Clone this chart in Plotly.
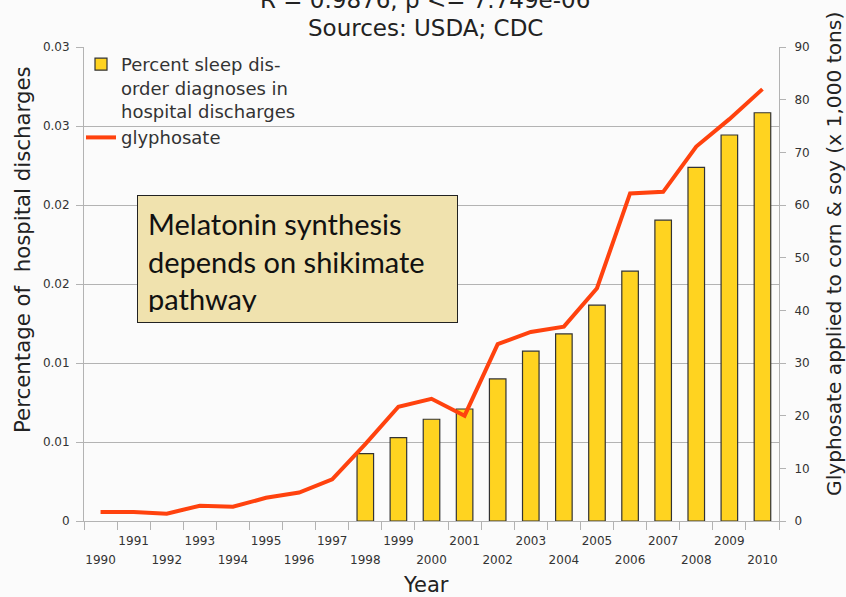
import plotly.graph_objects as go

# ---- data ----
years = [1990, 1991, 1992, 1993, 1994, 1995, 1996, 1997, 1998, 1999, 2000,
         2001, 2002, 2003, 2004, 2005, 2006, 2007, 2008, 2009, 2010]
sleep_pct = [None, None, None, None, None, None, None, None,
             0.00427, 0.00528, 0.00644, 0.00709, 0.00899, 0.01075, 0.01184,
             0.01366, 0.01581, 0.01904, 0.02238, 0.02443, 0.02584]
glyphosate = [1.7, 1.7, 1.4, 2.9, 2.7, 4.4, 5.4, 7.9, 14.6, 21.7, 23.2,
              20.0, 33.6, 35.9, 36.9, 44.2, 62.2, 62.5, 71.1, 76.3, 82.0]
left_tickvals = [0, 0.005, 0.01, 0.015, 0.02, 0.025, 0.03]
left_ticktext = ["0", "0.01", "0.01", "0.02", "0.02", "0.03", "0.03"]
right_tickvals = [0, 10, 20, 30, 40, 50, 60, 70, 80, 90]
even_labels = [str(y) if y % 2 == 0 else "" for y in years]
odd_labels = [str(y) if y % 2 == 1 else "" for y in years]

W, H = 846, 597
L, R, T, B = 84, 67, 47, 76
PW, PH = W - L - R, H - T - B


def px(x):
    return (x - L) / PW


def py(y):
    return (H - B - y) / PH


FONT = "DejaVu Sans"
GRID = "#b3b3b3"
BG = "#fbfbfb"
TICKFONT = dict(family=FONT, size=12, color="#333333")

fig = go.Figure()
fig.add_trace(go.Bar(
    x=years, y=sleep_pct, xaxis="x", yaxis="y",
    name="Percent sleep dis-<br>order diagnoses in<br>hospital discharges",
    marker=dict(color="#ffd320", line=dict(color="#333333", width=1.2)),
))
fig.add_trace(go.Scatter(
    x=years, y=glyphosate, xaxis="x2", yaxis="y2", mode="lines",
    name="glyphosate", line=dict(color="#ff420e", width=4),
))

fig.update_layout(
    width=W, height=H,
    margin=dict(l=L, r=R, t=T, b=B, pad=0, autoexpand=False),
    paper_bgcolor=BG, plot_bgcolor=BG,
    font=dict(family=FONT, size=12, color="#333333"),
    bargap=0.5,
    showlegend=True,
    legend=dict(x=px(81), y=py(46), xanchor="left", yanchor="top",
                bgcolor="rgba(0,0,0,0)", font=dict(size=18, color="#333333"),
                valign="top", tracegroupgap=5, itemwidth=30),
    xaxis=dict(type="category", categoryorder="array", categoryarray=years,
               range=[-0.5, 20.5], tickson="boundaries", ticks="outside",
               ticklen=8, tickcolor=GRID, showline=True, linecolor=GRID,
               showgrid=False, tickvals=years, ticktext=even_labels,
               tickangle=0, automargin=False, tickfont=TICKFONT,
               ticklabelstandoff=28, zeroline=False),
    xaxis2=dict(type="category", categoryorder="array", categoryarray=years,
                range=[-0.5, 20.5], overlaying="x", anchor="y2", side="bottom",
                ticks="", showline=False, showgrid=False, tickvals=years,
                ticktext=odd_labels, tickangle=0, automargin=False,
                tickfont=TICKFONT, ticklabelstandoff=11, zeroline=False),
    yaxis=dict(range=[0, 0.03], tickvals=left_tickvals, ticktext=left_ticktext,
               ticks="outside", ticklen=7, tickcolor=GRID, showline=True,
               linecolor=GRID, showgrid=True, gridcolor=GRID, gridwidth=1,
               zeroline=False, tickfont=TICKFONT, automargin=False,
               ticklabelstandoff=4),
    yaxis2=dict(range=[0, 90], tickvals=right_tickvals, overlaying="y",
                side="right", ticks="outside", ticklen=6, tickcolor=GRID,
                showline=True, linecolor=GRID, showgrid=False, zeroline=False,
                tickfont=TICKFONT, automargin=False, ticklabelstandoff=6),
)

annotations = [
    dict(text="R = 0.9876, p <= 7.749e-06", x=px(425), y=py(0),
         font=dict(size=23, color="#222222")),
    dict(text="Sources: USDA; CDC", x=px(425), y=py(27.5),
         font=dict(size=23, color="#222222")),
    dict(text="Year", x=px(426), y=py(585), font=dict(size=21, color="#222222")),
    dict(text="Percentage of\u00a0\u00a0hospital discharges", x=px(22), y=py(250),
         textangle=-90, font=dict(size=21.3, color="#222222")),
    dict(text="Glyphosate applied to corn & soy (x 1,000 tons)", x=px(834), y=py(254),
         textangle=-90, font=dict(size=20.2, color="#222222")),
]
for a in annotations:
    a.update(xref="paper", yref="paper", showarrow=False,
             xanchor="center", yanchor="middle")

annotations.append(dict(
    text="Melatonin synthesis<br>depends on shikimate<br>pathway",
    xref="paper", yref="paper", x=px(137), y=py(195),
    xanchor="left", yanchor="top", showarrow=False, align="left", valign="top",
    width=299, height=106, borderpad=10, bordercolor="#222222", borderwidth=1,
    bgcolor="#f0e2ae", font=dict(family="Lato", size=29, color="#111111"),
))
fig.update_layout(annotations=annotations)

fig.write_html(
    "out.html",
    config={"displayModeBar": False},
    post_script="document.body.style.margin='0';"
                "document.body.style.background='#fbfbfb';"
                "document.body.style.overflow='hidden';",
)
